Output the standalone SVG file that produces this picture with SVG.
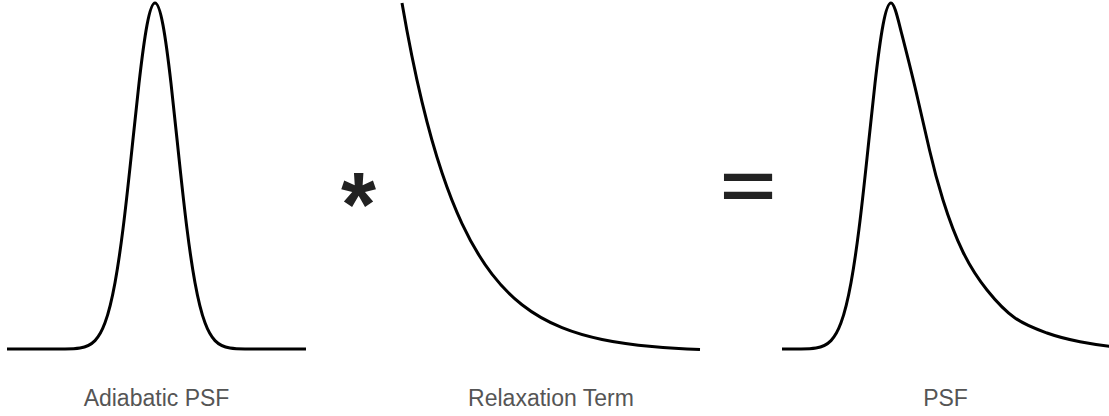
<svg xmlns="http://www.w3.org/2000/svg" width="1109" height="416" viewBox="0 0 1109 416">
<style>
.curve{fill:none;stroke:#000;stroke-width:3;stroke-linejoin:round;stroke-linecap:butt}
.label{font-family:"Liberation Sans",Arial,sans-serif;font-size:23px;fill:#555;text-anchor:middle}
.op{font-family:"Liberation Sans",Arial,sans-serif;font-weight:bold;fill:#222;text-anchor:middle}
</style>
<rect width="1109" height="416" fill="#fff"/>
<g id="adiabatic">
<path class="curve" d="M7 349 L65 348.92 C70 348.85,75 348.76,80 347.96 C85 347.16,90 345.8,95 340.6 C98.33 337.13,101.67 331.81,105 322.8 C108.33 313.79,111.67 300.95,115 282.7 C117.67 268.1,120.33 250.08,123 228.9 C125.67 207.72,128.33 183.34,131 158.1 C133.67 132.86,136.33 106.81,139 83.4 C141.67 59.99,144.33 39.37,147 25.1 C149.67 10.83,152.33 3,155 3 C157.67 3,160.33 10.83,163 25.1 C165.67 39.37,168.33 59.99,171 83.4 C173.67 106.81,176.33 132.86,179 158.1 C181.67 183.34,184.33 207.72,187 228.9 C189.67 250.08,192.33 268.1,195 282.7 C198.33 300.95,201.67 313.79,205 322.8 C208.33 331.81,211.67 337.13,215 340.6 C220 345.8,225 347.16,230 347.96 C235 348.76,240 348.85,245 348.92 L306 349"/>
<text class="label" x="156.5" y="406">Adiabatic PSF</text>
</g>
<g id="star">
<text class="op" x="358.5" y="236" font-size="90">*</text>
</g>
<g id="relaxation">
<path class="curve" d="M402 3 C408.67 41.78,415.33 74.11,422 101.9 C428.67 129.69,435.33 152.89,442 172.8 C448.67 192.71,455.33 209.33,462 223.6 C472 245,482 261.12,492 274.1 C502 287.08,512 296.93,522 304.8 C535.33 315.29,548.67 322.3,562 327.7 C575.33 333.1,588.67 336.73,602 339.5 C618.67 342.97,635.33 345.1,652 346.6 C668 348.04,684 348.95,700 349.6"/>
<text class="label" x="551" y="406">Relaxation Term</text>
</g>
<g id="equals">
<text class="op" x="748" y="219" font-size="96" transform="translate(0,186.7) scale(1,0.7) translate(0,-186.5)">=</text>
</g>
<g id="psf">
<path class="curve" d="M782 349 L801 348.92 C806 348.85,811 348.76,816 347.96 C821 347.16,826 345.8,831 340.6 C834.33 337.13,837.67 331.81,841 322.8 C844.33 313.79,847.67 300.95,851 282.7 C853.67 268.1,856.33 250.08,859 228.9 C861.67 207.72,864.33 183.34,867 158.1 C869.67 132.86,872.33 106.81,875 83.4 C877.67 59.99,880.33 39.37,883 25.1 C885.67 10.83,888.33 3,891 3 C894.5 3,898 19.35,901.5 33 C907 54.45,912.5 75.8,918 100 C921.83 116.87,925.67 133.52,929.5 150 C934 169.35,938.5 185.6,943 200 C949.67 221.33,956.33 238.33,963 252 C971 268.4,979 280,987 290 C996.33 301.67,1005.67 311.47,1015 318 C1025.67 325.47,1036.33 329.16,1047 333 C1058 336.96,1069 339.61,1080 341.7 C1090.67 343.73,1101.33 345.43,1112 346.5"/>
<text class="label" x="945.5" y="406">PSF</text>
</g>
</svg>
